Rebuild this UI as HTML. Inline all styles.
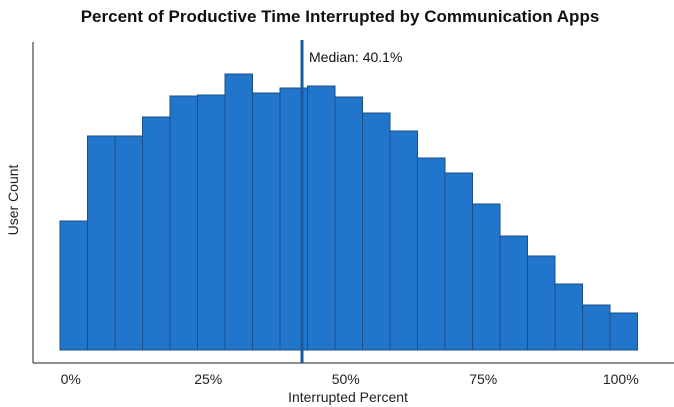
<!DOCTYPE html>
<html><head><meta charset="utf-8"><style>
body{margin:0;background:#fff;font-family:"Liberation Sans",Arial,sans-serif}
svg{display:block}
</style></head><body>
<svg id="chart" width="674" height="407">
<text x="340" y="22" text-anchor="middle" font-size="17" font-weight="bold" fill="#111">Percent of Productive Time Interrupted by Communication Apps</text>
<text x="18" y="200" text-anchor="middle" font-size="14" fill="#222" transform="rotate(-90 18 200)">User Count</text>
<text x="348" y="402" text-anchor="middle" font-size="14" fill="#222">Interrupted Percent</text>
<g id="bars"></g>
<g id="xticks"></g>
<line x1="33" y1="42" x2="33" y2="363" stroke="#222" stroke-width="1"/>
<line x1="33" y1="363" x2="674" y2="363" stroke="#222" stroke-width="1"/>
<g id="median"></g>
</svg>
<script>
const binCenters=[0,5,10,15,20,25,30,35,40,45,50,55,60,65,70,75,80,85,90,95,100];
const counts=[129,214,214,233,254,255,276,257,262,264,253,237,219,192,177,146,114,94,66,45,37];
const tickValues=[0,25,50,75,100];
const tickLabels=["0%","25%","50%","75%","100%"];
const medianPos=[41.5];
const medianLabel=["Median: 40.1%"];
const NS="http://www.w3.org/2000/svg";
const xs=v=>73.75+v*5.5;
const ys=c=>350-c*1;
const bw=5*5.5;
const bg=document.getElementById('bars');
binCenters.forEach((b,i)=>{
 const r=document.createElementNS(NS,'rect');
 r.setAttribute('x',xs(b)-bw/2);r.setAttribute('width',bw);
 r.setAttribute('y',ys(counts[i]));r.setAttribute('height',ys(0)-ys(counts[i]));
 r.setAttribute('fill','#2176cc');r.setAttribute('stroke','#1b4f86');r.setAttribute('stroke-width','1');
 
 
 bg.appendChild(r);
});
const tg=document.getElementById('xticks');
tickValues.forEach((t,i)=>{
 const tx=document.createElementNS(NS,'text');
 tx.setAttribute('x',xs(t)-3);tx.setAttribute('y',384);tx.setAttribute('text-anchor','middle');
 tx.setAttribute('font-size','14');tx.setAttribute('fill','#222');tx.textContent=tickLabels[i];
 
 
 tg.appendChild(tx);
});
const mg=document.getElementById('median');
const ml=document.createElementNS(NS,'line');
ml.setAttribute('x1',xs(medianPos[0]));ml.setAttribute('x2',xs(medianPos[0]));
ml.setAttribute('y1',40);ml.setAttribute('y2',363);ml.setAttribute('stroke','#1a5a9c');ml.setAttribute('stroke-width','3');


mg.appendChild(ml);
const mt=document.createElementNS(NS,'text');
mt.setAttribute('x',xs(medianPos[0])+7);mt.setAttribute('y',62);mt.setAttribute('font-size','14');mt.setAttribute('fill','#111');
mt.textContent=medianLabel[0];


mg.appendChild(mt);
</script>
</body></html>
